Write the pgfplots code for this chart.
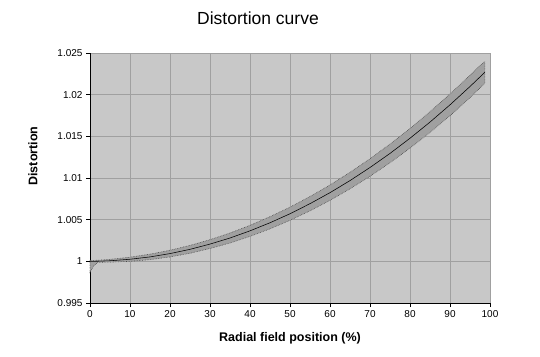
\documentclass[border=0pt]{standalone}
\usepackage{pgfplots}
\pgfplotsset{compat=1.18}
\usepackage{fontspec}
\setmainfont{Liberation Sans}
\definecolor{plotbg}{RGB}{200,200,200}
\definecolor{gridc}{RGB}{160,160,160}
\definecolor{bandc}{RGB}{160,160,160}
\begin{document}
\begin{tikzpicture}
\path[use as bounding box] (0,0) rectangle (540pt,356pt);
\begin{axis}[
  at={(90pt,53pt)}, anchor=south west,
  width=400pt, height=250pt, scale only axis,
  xmin=0, xmax=100, ymin=0.995, ymax=1.025,
  xtick={0,10,...,100},
  ytick={0.995,1,1.005,1.01,1.015,1.02,1.025},
  yticklabels={0.995,1,1.005,1.01,1.015,1.02,1.025},
  axis lines*=left,
  axis line style={black,line width=0.9pt,-},
  tick align=outside,
  major tick length=4pt,
  tick style={black,line width=0.8pt},
  grid=major,
  major grid style={gridc,line width=0.9pt},
  axis background/.style={fill=plotbg},
  /pgf/number format/assume math mode=true,
  ticklabel style={font=\fontsize{10}{12}\selectfont},
  clip=false,
]
% error band (upper edge forward, lower edge backward)
\addplot[fill=bandc, draw=black!70, densely dotted, line width=0.6pt] coordinates {
(0,1.0001) (2,1.00013) (5,1.00024) (10,1.0005) (15,1.00086) (20,1.00133)
(25,1.00191) (30,1.0026) (35,1.0034) (40,1.00432) (45,1.00536) (50,1.0065)
(55,1.00778) (60,1.00916) (65,1.01068) (70,1.01231) (75,1.01407) (80,1.01595)
(85,1.01795) (90,1.02008) (95,1.02232) (97.5,1.0235) (98.7,1.02398)
(98.7,1.02138) (95,1.01964) (90,1.01748) (85,1.01547) (80,1.01359) (75,1.01183)
(70,1.01021) (65,1.0087) (60,1.00732) (55,1.00606) (50,1.00492) (45,1.0039)
(40,1.003) (35,1.0022) (30,1.00154) (25,1.00097) (20,1.00053) (15,1.0002)
(10,1.0000) (5,0.9999) (2,0.99989) (1,0.9995) (0,0.9987) (0,1.0001)
};
% centre curve
\addplot[black, line width=0.55pt] coordinates {
(0,1.0000) (2,1.00001) (5,1.00007) (10,1.00025) (15,1.00053) (20,1.00093)
(25,1.00144) (30,1.00207) (35,1.0028) (40,1.00366) (45,1.00463) (50,1.00571)
(55,1.00692) (60,1.00824) (65,1.00969) (70,1.01126) (75,1.01295) (80,1.01477)
(85,1.01671) (90,1.01878) (95,1.02098) (98.7,1.02268)
};
\end{axis}
\node[font=\fontsize{17.5}{20}\selectfont] at (258pt,338pt) {Distortion curve};
\node[font=\fontsize{12.5}{15}\selectfont\bfseries] at (290pt,18pt) {Radial field position (\%)};
\node[font=\fontsize{12.5}{15}\selectfont\bfseries, rotate=90] at (33pt,200pt) {Distortion};
\end{tikzpicture}
\end{document}
